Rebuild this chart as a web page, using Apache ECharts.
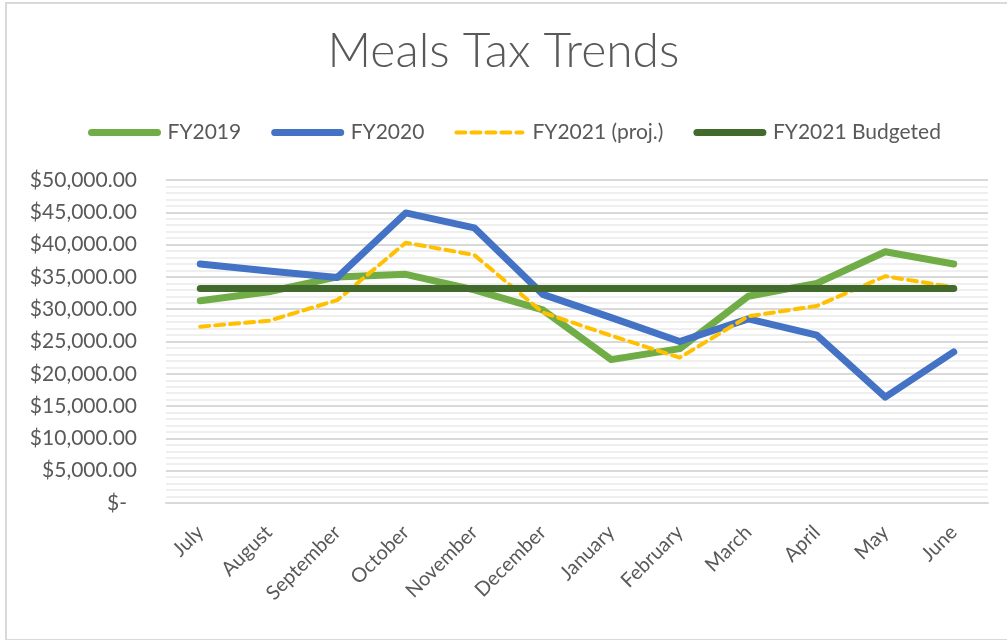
<!DOCTYPE html>
<html>
<head>
    <meta charset="utf-8" />
    <title>Meals Tax Trends</title>
    <style>
        html, body {
            margin: 0;
            padding: 0;
            background: #fff;
            overflow: hidden;
        }
        #frame {
            position: absolute;
            left: 5px;
            top: 2px;
            width: 1010px;
            height: 635px;
            border: 2px solid #d9d9d9;
        }
        #linechart {
            position: absolute;
            left: 0;
            top: 0;
            width: 1007px;
            height: 640px;
        }
    </style>
</head>
<body>
    <div id="frame"></div>
    <div id="linechart"></div>
    <script src="https://cdn.jsdelivr.net/npm/echarts@6/dist/echarts.min.js"></script>
    <script>
        var months = ['July', 'August', 'September', 'October', 'November', 'December',
            'January', 'February', 'March', 'April', 'May', 'June'];
        var fy2019 = [31300, 32700, 35000, 35400, 33000, 29900, 22200, 23900, 32000, 34000, 38900, 37000];
        var fy2020 = [37000, 35900, 34900, 44900, 42600, 32300, 28700, 25000, 28500, 26000, 16400, 23400];
        var fy2021proj = [27300, 28200, 31400, 40300, 38400, 29500, 25900, 22500, 28900, 30500, 35100, 33400];
        var fy2021budget = [33200, 33200, 33200, 33200, 33200, 33200, 33200, 33200, 33200, 33200, 33200, 33200];

        var textColor = '#595959';
        var font = 'Lato, "Open Sans", sans-serif';

        function money(v) {
            if (v === 0) return '{z|$-}';
            return '$' + v.toLocaleString('en-US', { minimumFractionDigits: 2, maximumFractionDigits: 2 });
        }

        // legend entries: thick line, no dot
        function legendItem(name, width) {
            return { name: name, itemStyle: { opacity: 0 }, lineStyle: { width: width } };
        }

        var option = {
            animation: false,
            title: {
                text: 'Meals Tax Trends',
                left: 'center',
                top: 23,
                textStyle: {
                    color: textColor,
                    fontFamily: font,
                    fontWeight: 300,
                    fontSize: 48
                }
            },
            legend: {
                top: 117,
                left: 83,
                itemWidth: 66,
                itemHeight: 14,
                itemGap: 30,
                formatter: function (name) { return '{t|' + name + '}'; },
                textStyle: {
                    color: textColor, fontFamily: font, fontSize: 21,
                    rich: { t: { padding: [0, 0, 0, 5], color: textColor, fontFamily: font, fontSize: 21 } }
                },
                data: [
                    legendItem('FY2019', 7),
                    legendItem('FY2020', 7),
                    legendItem('FY2021 (proj.)', 4),
                    legendItem('FY2021 Budgeted', 7)
                ]
            },
            grid: {
                left: 166,
                right: 19,
                top: 180,
                bottom: 137
            },
            xAxis: {
                type: 'category',
                data: months,
                boundaryGap: true,
                axisLine: { lineStyle: { color: '#d9d9d9', width: 2 } },
                axisTick: { show: false },
                axisLabel: {
                    rotate: 45,
                    margin: 26,
                    color: textColor,
                    fontFamily: font,
                    fontSize: 20,
                    interval: 0
                }
            },
            yAxis: {
                type: 'value',
                min: 0,
                max: 50000,
                interval: 5000,
                axisLine: { show: false },
                axisTick: { show: false },
                axisLabel: {
                    formatter: money,
                    margin: 29,
                    color: textColor,
                    fontFamily: font,
                    fontSize: 21,
                    rich: { z: { padding: [0, 10, 0, 0], color: textColor, fontFamily: font, fontSize: 21 } }
                },
                splitLine: { lineStyle: { color: '#d9d9d9', width: 2 } },
                minorTick: { show: false, splitNumber: 5 },
                minorSplitLine: { show: true, lineStyle: { color: '#efefef', width: 2 } }
            },
            series: [
                {
                    name: 'FY2019', type: 'line', data: fy2019, symbol: 'none',
                    itemStyle: { color: '#70ad47' },
                    lineStyle: { color: '#70ad47', width: 7, cap: 'round', join: 'round' }
                },
                {
                    name: 'FY2020', type: 'line', data: fy2020, symbol: 'none',
                    itemStyle: { color: '#4472c4' },
                    lineStyle: { color: '#4472c4', width: 7, cap: 'round', join: 'round' }
                },
                {
                    name: 'FY2021 (proj.)', type: 'line', data: fy2021proj, symbol: 'none',
                    itemStyle: { color: '#ffc000' },
                    lineStyle: { color: '#ffc000', width: 4, type: [9, 6], cap: 'round', join: 'round' }
                },
                {
                    name: 'FY2021 Budgeted', type: 'line', data: fy2021budget, symbol: 'none',
                    itemStyle: { color: '#436a2d' },
                    lineStyle: { color: '#436a2d', width: 7, cap: 'round', join: 'round' }
                }
            ]
        };

        var lineChart = echarts.init(document.getElementById('linechart'));
        lineChart.setOption(option);
    </script>
</body>
</html>
